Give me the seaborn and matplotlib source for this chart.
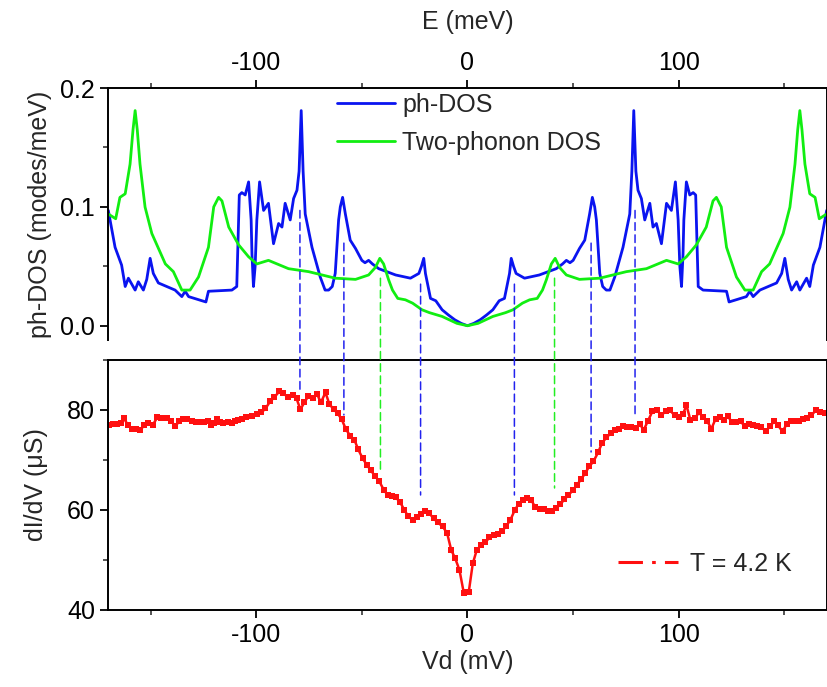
import numpy as np
import pandas as pd
import matplotlib
matplotlib.use("Agg")
import matplotlib.pyplot as plt
from matplotlib.patches import ConnectionPatch
from matplotlib.lines import Line2D
from matplotlib.ticker import MultipleLocator
import seaborn as sns

# ---- data (positive-energy half; DOS curves are mirror-symmetric in E) ----
ph_E = [0, 3, 6, 9, 12, 15, 17.5, 19.9, 20.7, 21.8, 23, 27, 34, 42, 45, 46.8, 48.5, 50, 53,
        55.5, 57.8, 59.1, 60.2, 61, 62.6, 64, 65.7, 67.4, 69.7, 73.6, 76.8, 77.8, 78.7, 79.7,
        80.7, 82.3, 83.9, 86.3, 87.8, 89.4, 91.8, 94.2, 96.5, 98.4, 99.7, 100.5, 101.3, 102.0,
        102.4, 103.6, 105.2, 106.8, 108, 108.6, 109.2, 111.5, 117, 122.6, 123.8, 132, 133.6,
        135.2, 138.4, 146.3, 148.7, 150.2, 151.8, 153.4, 155.8, 157.3, 160.5, 162, 163.7,
        166.8, 170]
ph_dos = [0.0, 0.002, 0.005, 0.009, 0.0134, 0.021, 0.023, 0.044, 0.0567, 0.050, 0.044, 0.040,
          0.0427, 0.048, 0.052, 0.055, 0.053, 0.055, 0.065, 0.072, 0.094, 0.108, 0.100, 0.089,
          0.044, 0.033, 0.030, 0.030, 0.041, 0.066, 0.094, 0.13, 0.181, 0.13, 0.114, 0.107,
          0.089, 0.103, 0.083, 0.086, 0.069, 0.103, 0.097, 0.121, 0.089, 0.05, 0.033, 0.06,
          0.089, 0.121, 0.11, 0.112, 0.11, 0.07, 0.033, 0.030, 0.0295, 0.029, 0.020, 0.0245,
          0.029, 0.0245, 0.030, 0.036, 0.044, 0.0567, 0.039, 0.030, 0.037, 0.030, 0.040, 0.033,
          0.051, 0.066, 0.097]

tp_E = [0, 5, 12, 18, 21.5, 26, 29.4, 33, 35.5, 37.3, 39.7, 41.5, 43.6, 46.8, 53, 62.6, 75.2,
        84.7, 94.2, 99.7, 103.6, 108.3, 113, 116.2, 117.8, 120.1, 122.6, 127.3, 131.3, 135.2,
        139.2, 143, 149.4, 152.6, 155, 156.3, 157.3, 158.3, 159.7, 162, 164.5, 166.5, 170]
tp_dos = [0.0, 0.002, 0.0078, 0.011, 0.0134, 0.019, 0.0218, 0.023, 0.030, 0.0385, 0.052, 0.0567,
          0.049, 0.0427, 0.039, 0.040, 0.0455, 0.048, 0.055, 0.052, 0.058, 0.068, 0.083, 0.105,
          0.108, 0.100, 0.066, 0.041, 0.030, 0.030, 0.0455, 0.052, 0.0776, 0.0998, 0.136, 0.165,
          0.181, 0.165, 0.136, 0.111, 0.108, 0.090, 0.094]

# ---- measured dI/dV at T = 4.2 K ----
vd = [-169.7, -167.7, -165.8, -164.2, -162.6, -160.7, -158.6, -156.8, -154.9, -153, -151,
      -149, -146.8, -144.9, -143.9, -142.1, -140.2, -138.3, -136.4, -134.5, -132.6, -130.6,
      -128.7, -126.7, -124.8, -123, -121.2, -120, -118.7, -117.2, -115.5, -113.5, -111.5,
      -110.2, -108.8, -106.7, -104.7, -102.2, -99.4, -97.5, -95.6, -93.4, -91.5, -89.1, -87.1,
      -84.8, -82.8, -80.9, -79.1, -77.2, -75.3, -73.1, -71.2, -69.4, -67.2, -65.4, -63.3,
      -61.4, -59.5, -57.5, -55.4, -53.5, -51.7, -49.6, -47.6, -45.7, -43.8, -41.7, -39.6,
      -37.8, -35.9, -33.9, -31.8, -29.9, -28, -25.9, -23.8, -22, -20.1, -18, -16, -14.1, -11.7,
      -9.6, -7.7, -5.8, -3.8, -1.7, -0.6, 0.6, 2.5, 4.4, 6.5, 8.4, 10.4, 12.5, 14.4, 16.3, 18.2,
      20.3, 22.3, 24.2, 26.2, 28.3, 30.2, 32.1, 34.1, 36.2, 38, 39.9, 42, 44, 45.9, 47.8, 49.8,
      51.8, 53.7, 55.6, 57.6, 59.6, 61.8, 63.6, 65.7, 67.8, 69.7, 71.7, 73.6, 75.6, 77.5, 79.6,
      81.5, 83.4, 85.4, 87.5, 89.7, 91.8, 93.8, 96, 98, 100.1, 102, 103.6, 105.5, 107.5, 109.6,
      111.5, 113.5, 115.4, 117.4, 119.3, 121.4, 123.3, 125.3, 127.2, 129.3, 131.3, 133.2,
      135.1, 137.2, 139.1, 141.2, 143.1, 145.1, 147, 149.1, 151, 153, 154.9, 157, 158.9,
      160.9, 162.8, 164.9, 166.8, 169.1]
didv = [77.0, 77.1, 77.2, 77.3, 78.3, 77.0, 76.1, 76.1, 75.9, 77.0, 77.3, 77.0, 78.5, 78.3,
        78.3, 78.3, 77.7, 76.8, 77.7, 78.1, 78.1, 77.8, 77.5, 77.5, 77.5, 77.7, 77.0, 77.3,
        78.1, 77.5, 77.3, 77.5, 77.3, 77.7, 78.0, 78.2, 78.5, 78.7, 79.1, 79.5, 80.3, 81.7,
        82.5, 83.7, 83.3, 82.5, 83.0, 82.3, 80.1, 81.5, 82.8, 82.3, 83.2, 81.5, 83.5, 81.2,
        80.1, 79.3, 78.1, 76.1, 74.8, 74.0, 72.1, 70.3, 69.0, 67.9, 66.8, 65.7, 64.0, 63.0,
        62.8, 62.5, 61.5, 60.0, 58.7, 58.0, 58.5, 59.2, 59.7, 59.3, 58.3, 57.5, 56.7, 55.3,
        52.0, 50.3, 48.0, 43.3, 43.5, 43.6, 49.3, 52.0, 53.0, 53.5, 54.5, 55.0, 55.2, 55.7,
        56.7, 58.0, 59.9, 61.2, 62.0, 62.3, 62.0, 60.5, 60.2, 60.1, 59.7, 59.7, 60.3, 61.2,
        62.1, 63.0, 63.9, 65.0, 66.1, 67.3, 68.7, 69.7, 71.5, 73.3, 74.5, 75.3, 76.0, 76.2,
        76.8, 76.5, 76.5, 76.3, 77.2, 76.0, 77.8, 79.7, 80.0, 78.9, 79.8, 79.9, 78.9, 78.5,
        79.1, 81.0, 78.0, 78.3, 79.5, 78.5, 77.8, 76.2, 78.2, 78.5, 78.0, 78.7, 77.5, 77.5,
        77.7, 76.7, 77.1, 76.9, 76.7, 76.5, 75.8, 76.7, 77.7, 76.9, 75.7, 77.1, 77.8, 77.8,
        77.8, 78.2, 78.4, 78.9, 80.0, 79.5, 79.3]

# guide lines: energies of DOS features (blue = ph-DOS, green = two-phonon)
guide_E = [-79.3, -58.5, -41.2, -22.2, 22.2, 41.2, 58.5, 79.3]
guide_top = [0.097, 0.0695, 0.040, 0.035, 0.035, 0.040, 0.0695, 0.097]
guide_bot = [84.0, 79.0, 68.0, 63.0, 63.0, 64.4, 71.6, 79.0]
guide_col = ["#2222ee", "#2222ee", "#22ee22", "#2222ee", "#2222ee", "#22ee22", "#2222ee", "#2222ee"]

def mirror(e, v):
    e = np.asarray(e, float); v = np.asarray(v, float)
    return np.concatenate([-e[:0:-1], e]), np.concatenate([v[:0:-1], v])

phx, phy = mirror(ph_E, ph_dos)
tpx, tpy = mirror(tp_E, tp_dos)
df_ph = pd.DataFrame({"E": phx, "dos": phy})
df_tp = pd.DataFrame({"E": tpx, "dos": tpy})
df_iv = pd.DataFrame({"Vd": vd, "G": didv})

sns.set_theme(style="ticks")
plt.rcParams["font.family"] = ["Liberation Sans", "DejaVu Sans"]
plt.rcParams["axes.unicode_minus"] = False
plt.rcParams["axes.linewidth"] = 1.4
plt.rcParams["xtick.major.width"] = 1.3
plt.rcParams["ytick.major.width"] = 1.3
plt.rcParams["xtick.minor.width"] = 1.1
plt.rcParams["ytick.minor.width"] = 1.1

FS = 18
fig = plt.figure(figsize=(8.28, 6.87), dpi=100)
ax1 = fig.add_axes([0.1308, 0.5051, 0.8676, 0.3668])
ax2 = fig.add_axes([0.1308, 0.1121, 0.8676, 0.3639])

BLUE = "#0a14f0"
GREEN = "#11ee11"
RED = "#ff1010"

sns.lineplot(data=df_ph, x="E", y="dos", ax=ax1, color=BLUE, lw=2.0, sort=False,
             estimator=None, label="ph-DOS")
sns.lineplot(data=df_tp, x="E", y="dos", ax=ax1, color=GREEN, lw=2.0, sort=False,
             estimator=None, label="Two-phonon DOS")
sns.lineplot(data=df_iv, x="Vd", y="G", ax=ax2, color=RED, lw=1.8, sort=False,
             estimator=None, marker="s", markersize=3.8, markeredgewidth=0)

for ax in (ax1, ax2):
    ax.set_xlim(-170, 170)
    ax.xaxis.set_major_locator(MultipleLocator(100))
    ax.xaxis.set_minor_locator(MultipleLocator(50))
    ax.tick_params(which="major", length=6, labelsize=FS, direction="out", colors="black")
    ax.tick_params(which="minor", length=3.5, direction="out")
    for s in ax.spines.values():
        s.set_color("black")

ax1.set_ylim(-0.012, 0.2)
ax1.yaxis.set_major_locator(MultipleLocator(0.1))
ax1.yaxis.set_minor_locator(MultipleLocator(0.05))
ax1.yaxis.set_major_formatter(matplotlib.ticker.FormatStrFormatter("%.1f"))
ax1.xaxis.set_ticks_position("top")
ax1.xaxis.set_label_position("top")
ax1.spines["bottom"].set_visible(False)
ax1.set_xlabel("E (meV)", fontsize=FS, labelpad=16)
ax1.set_ylabel("ph-DOS (modes/meV)", fontsize=FS, labelpad=6)
ax1.legend(loc="upper left", bbox_to_anchor=(0.305, 1.02), frameon=False, fontsize=FS,
           handlelength=2.3, handletextpad=0.3, labelspacing=0.55, borderaxespad=0)

ax2.set_ylim(40, 90)
ax2.yaxis.set_major_locator(MultipleLocator(20))
ax2.yaxis.set_minor_locator(MultipleLocator(10))
ax2.set_xlabel("Vd (mV)", fontsize=FS, labelpad=2)
ax2.set_ylabel("dI/dV (\u03bcS)", fontsize=FS, labelpad=14)
h = Line2D([], [], color=RED, lw=2.2, linestyle=(0, (8, 3, 1.2, 3)))
ax2.legend([h], ["T = 4.2 K"], loc="lower left", bbox_to_anchor=(0.695, 0.096), frameon=False,
           fontsize=FS, handlelength=2.4, handletextpad=0.5, borderaxespad=0)

for e, yt, yb, c in zip(guide_E, guide_top, guide_bot, guide_col):
    con = ConnectionPatch(xyA=(e, yt), coordsA=ax1.transData, xyB=(e, yb),
                          coordsB=ax2.transData, color=c, lw=1.1, linestyle=(0, (5, 3)))
    fig.add_artist(con)

fig.savefig("out.png", dpi=100)
